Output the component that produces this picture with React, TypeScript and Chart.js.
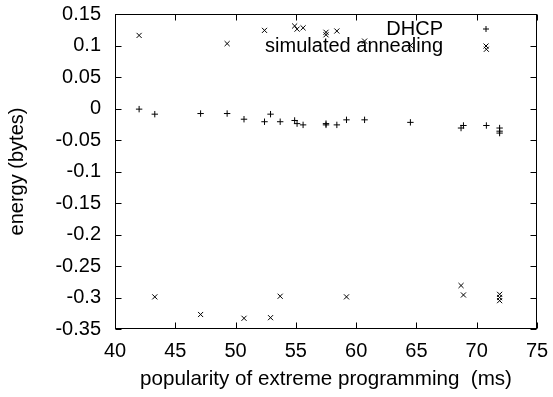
import React, { useEffect, useRef } from 'react';
import { Chart, registerables } from 'chart.js';

Chart.register(...registerables);

const dhcpX = [42.0, 43.3, 47.1, 49.3, 50.7, 52.4, 52.9, 53.7, 54.9, 55.1, 55.6, 57.5, 57.5, 58.4, 59.2, 60.7, 64.5, 68.7, 68.9, 70.8, 71.9, 71.9, 71.9];
const dhcpY = [-0.001, -0.009, -0.008, -0.008, -0.017, -0.021, -0.009, -0.021, -0.019, -0.024, -0.026, -0.024, -0.026, -0.026, -0.018, -0.018, -0.022, -0.031, -0.027, -0.027, -0.031, -0.036, -0.039];

const annealX = [42.0, 43.3, 47.1, 49.3, 50.7, 52.4, 52.9, 53.7, 54.9, 55.1, 55.6, 57.5, 57.5, 58.4, 59.2, 60.7, 64.5, 68.7, 68.9, 70.8, 71.9, 71.9, 71.9];
const annealY = [0.116, -0.299, -0.327, 0.103, -0.333, 0.124, -0.332, -0.298, 0.131, 0.126, 0.128, 0.121, 0.117, 0.123, -0.299, 0.107, 0.100, -0.281, -0.296, 0.094, -0.295, -0.300, -0.305];

const xTicks = [40, 45, 50, 55, 60, 65, 70, 75];
const yTicks = [0.15, 0.1, 0.05, 0, -0.05, -0.1, -0.15, -0.2, -0.25, -0.3, -0.35];

const seriesNames = ['DHCP', 'simulated annealing'];
const xTitle = 'popularity of extreme programming  (ms)';
const yTitle = 'energy (bytes)';

const FONT = '"Liberation Sans", Arial, Helvetica, sans-serif';
const FSIZE = 20;

const zeroPad = (s: any) => {
  s.paddingTop = 0;
  s.paddingBottom = 0;
  s.paddingLeft = 0;
  s.paddingRight = 0;
};

export default function App() {
  const ref = useRef<HTMLCanvasElement>(null);

  useEffect(() => {
    document.body.style.margin = '0';
    const canvas = ref.current;
    if (!canvas) return;

    const framePlugin = {
      id: 'frame',
      afterDraw(chart: any) {
        const { ctx, chartArea: a, scales } = chart;
        ctx.save();
        ctx.strokeStyle = '#000';
        ctx.lineWidth = 1;
        const L = Math.round(a.left) + 0.5;
        const R = Math.round(a.right) - 0.5;
        const T = Math.round(a.top) + 0.5;
        const B = Math.round(a.bottom) - 0.5;
        ctx.strokeRect(L, T, R - L, B - T);
        const tl = 6;
        ctx.beginPath();
        for (const v of xTicks) {
          const px = Math.round(scales.x.getPixelForValue(v)) + 0.5;
          ctx.moveTo(px, B); ctx.lineTo(px, B - tl);
          ctx.moveTo(px, T); ctx.lineTo(px, T + tl);
        }
        for (const v of yTicks) {
          const py = Math.round(scales.y.getPixelForValue(v)) + 0.5;
          ctx.moveTo(L, py); ctx.lineTo(L + tl, py);
          ctx.moveTo(R, py); ctx.lineTo(R - tl, py);
        }
        ctx.stroke();

        // legend
        ctx.fillStyle = '#000';
        ctx.font = `${FSIZE}px ${FONT}`;
        ctx.textAlign = 'right';
        ctx.textBaseline = 'middle';
        const tx = 443;
        const sx = 486;
        const rows = [29, 46];
        ctx.fillText(seriesNames[0], tx, rows[0]);
        ctx.fillText(seriesNames[1], tx, rows[1]);
        ctx.beginPath();
        const r = 3;
        const q = 2.5;
        ctx.moveTo(sx - r, rows[0]); ctx.lineTo(sx + r, rows[0]);
        ctx.moveTo(sx, rows[0] - r); ctx.lineTo(sx, rows[0] + r);
        ctx.moveTo(sx - q, rows[1] - q); ctx.lineTo(sx + q, rows[1] + q);
        ctx.moveTo(sx - q, rows[1] + q); ctx.lineTo(sx + q, rows[1] - q);
        ctx.stroke();
        ctx.restore();
      },
    };

    const chart = new Chart(canvas, {
      type: 'scatter',
      data: {
        datasets: [
          {
            label: seriesNames[0],
            data: dhcpX.map((x, i) => ({ x, y: dhcpY[i] })),
            pointStyle: 'cross',
            pointRadius: 3.2,
            borderColor: '#000',
            backgroundColor: '#000',
            borderWidth: 1,
          },
          {
            label: seriesNames[1],
            data: annealX.map((x, i) => ({ x, y: annealY[i] })),
            pointStyle: 'crossRot',
            pointRadius: 3.6,
            borderColor: '#000',
            backgroundColor: '#000',
            borderWidth: 1,
          },
        ],
      },
      options: {
        animation: false,
        responsive: false,
        layout: { padding: { left: 0, right: 16, top: 14, bottom: 0 } },
        plugins: { legend: { display: false }, tooltip: { enabled: false } },
        scales: {
          x: {
            type: 'linear',
            min: 40,
            max: 75,
            afterBuildTicks: (s: any) => { s.ticks = xTicks.map((v) => ({ value: v })); },
            afterFit: (s: any) => { s.height = 68; zeroPad(s); },
            grid: { display: false, drawTicks: false },
            border: { display: false },
            ticks: {
              color: '#000',
              font: { family: FONT, size: FSIZE },
              padding: 10,
              maxRotation: 0,
              autoSkip: false,
              callback: (v: any) => String(v),
            },
            title: {
              display: true,
              text: xTitle,
              color: '#000',
              font: { family: FONT, size: 20.6 },
              padding: { top: 0, bottom: 5 },
            },
          },
          y: {
            type: 'linear',
            min: -0.35,
            max: 0.15,
            afterBuildTicks: (s: any) => { s.ticks = yTicks.map((v) => ({ value: v })); },
            afterFit: (s: any) => { s.width = 115; zeroPad(s); },
            grid: { display: false, drawTicks: false },
            border: { display: false },
            ticks: {
              color: '#000',
              font: { family: FONT, size: FSIZE },
              padding: 14,
              autoSkip: false,
              callback: (v: any) => String(Math.round(Number(v) * 100) / 100),
            },
            title: {
              display: true,
              text: yTitle,
              color: '#000',
              font: { family: FONT, size: FSIZE },
              padding: { top: 5, bottom: 0 },
            },
          },
        },
      },
      plugins: [framePlugin],
    });

    return () => chart.destroy();
  }, []);

  return (
    <div style={{ width: 553, height: 397 }}>
      <canvas ref={ref} width={553} height={397} style={{ display: 'block' }} />
    </div>
  );
}
